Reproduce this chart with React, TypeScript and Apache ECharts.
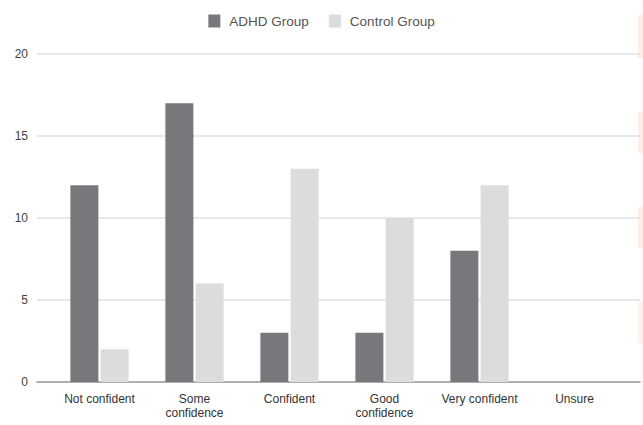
import React, { useEffect, useRef } from "react";
import * as echarts from "echarts";

const categories = [
  "Not confident",
  "Some\nconfidence",
  "Confident",
  "Good\nconfidence",
  "Very confident",
  "Unsure",
];
const adhdGroup = [12, 17, 3, 3, 8, 0];
const controlGroup = [2, 6, 13, 10, 12, 0];
const yTicks = { min: 0, max: 20, interval: 5 };

const FONT = "Liberation Sans, Arial, sans-serif";

export default function App() {
  const ref = useRef<HTMLDivElement>(null);

  useEffect(() => {
    if (!ref.current) return;
    const chart = echarts.init(ref.current, undefined, { renderer: "svg" });
    chart.setOption({
      animation: false,
      backgroundColor: "#ffffff",
      textStyle: { fontFamily: FONT },
      legend: {
        top: 9,
        left: "center",
        itemWidth: 12,
        itemHeight: 13,
        itemGap: 20,
        icon: "rect",
        textStyle: { color: "#555", fontSize: 13.5, fontFamily: FONT, padding: [0, 0, 0, 4] },
        data: ["ADHD Group", "Control Group"],
      },
      grid: [
        // full-width grid carrying the value gridlines and baseline
        { left: 37, right: 3, top: 54, bottom: 43, containLabel: false },
        // inner grid where the category bands live
        { left: 52, right: 21, top: 54, bottom: 43, containLabel: false },
      ],
      xAxis: [
        {
          gridIndex: 0,
          type: "value",
          min: 0,
          max: 1,
          axisLabel: { show: false },
          axisTick: { show: false },
          splitLine: { show: false },
          axisLine: { show: true, lineStyle: { color: "#9a9a9a", width: 1.5 } },
        },
        {
          gridIndex: 1,
          type: "category",
          data: categories,
          axisLine: { show: false },
          axisTick: { show: false },
          axisLabel: {
            color: "#333",
            fontSize: 12,
            fontFamily: FONT,
            margin: 10,
            lineHeight: 14,
            interval: 0,
          },
        },
      ],
      yAxis: [
        {
          gridIndex: 0,
          type: "value",
          ...yTicks,
          axisLine: { show: false },
          axisTick: { show: false },
          axisLabel: { color: "#444", fontSize: 12, fontFamily: FONT, margin: 9 },
          splitLine: { lineStyle: { color: "#e2e2e2", width: 1.5 } },
        },
        {
          gridIndex: 1,
          type: "value",
          ...yTicks,
          show: false,
          splitLine: { show: false },
        },
      ],
      series: [
        {
          name: "ADHD Group",
          type: "bar",
          xAxisIndex: 1,
          yAxisIndex: 1,
          data: adhdGroup,
          barWidth: 28,
          barGap: "8%",
          itemStyle: { color: "#77787b" },
        },
        {
          name: "Control Group",
          type: "bar",
          xAxisIndex: 1,
          yAxisIndex: 1,
          data: controlGroup,
          barWidth: 28,
          itemStyle: { color: "#dcdcde" },
        },
      ],
      graphic: [
        { type: "rect", shape: { x: 638, y: 15, width: 5, height: 43 }, style: { fill: "#fdeee6" } },
        { type: "rect", shape: { x: 638, y: 112, width: 5, height: 41 }, style: { fill: "#fdeee6" } },
        { type: "rect", shape: { x: 638, y: 207, width: 5, height: 41 }, style: { fill: "#fdeee6" } },
        { type: "rect", shape: { x: 638, y: 302, width: 5, height: 41 }, style: { fill: "#fdf3ee" } },
      ],
    });
    return () => chart.dispose();
  }, []);

  return <div ref={ref} style={{ width: 643, height: 425, position: "absolute", left: 0, top: 0 }} />;
}
